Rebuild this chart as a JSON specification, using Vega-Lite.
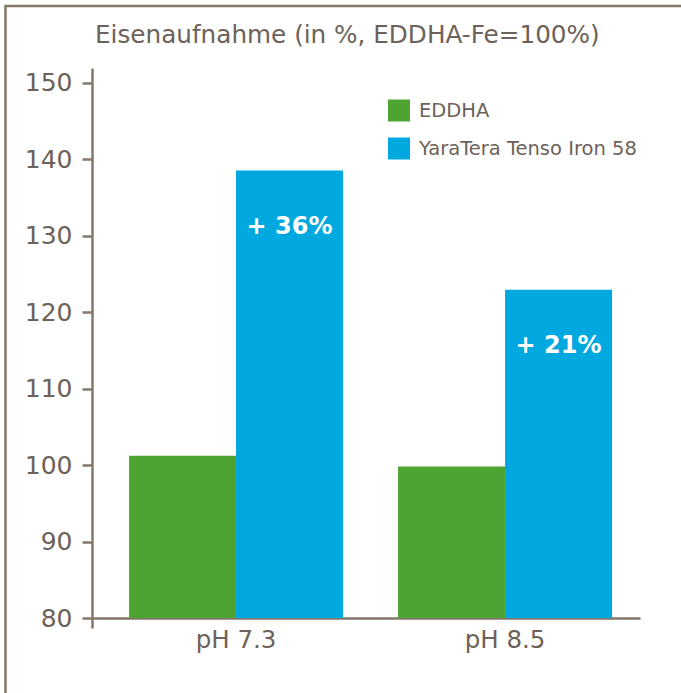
{
  "$schema": "https://vega.github.io/schema/vega-lite/v6.json",
  "width": 700,
  "height": 700,
  "autosize": {"type": "none"},
  "padding": {"left": 5.5, "top": 6, "right": 0, "bottom": 0},
  "background": "white",
  "view": {"stroke": "#85786a", "strokeWidth": 2.5},
  "title": {
    "text": "Eisenaufnahme (in %, EDDHA-Fe=100%)",
    "anchor": "start",
    "frame": "group",
    "orient": "top",
    "offset": 0,
    "dx": 89.5,
    "dy": 62,
    "baseline": "alphabetic",
    "font": "DejaVu Sans",
    "fontSize": 24.7,
    "fontWeight": "normal",
    "color": "#6d6259",
    "limit": 0
  },
  "data": {
    "values": [
      {"ph": "pH 7.3", "serie": "EDDHA", "wert": 101.2},
      {"ph": "pH 7.3", "serie": "YaraTera Tenso Iron 58", "wert": 138.5, "label": "+ 36%"},
      {"ph": "pH 8.5", "serie": "EDDHA", "wert": 99.8},
      {"ph": "pH 8.5", "serie": "YaraTera Tenso Iron 58", "wert": 122.9, "label": "+ 21%"}
    ]
  },
  "encoding": {
    "x": {
      "field": "ph",
      "type": "nominal",
      "scale": {"range": [86.5, 634.5], "paddingInner": 0.2045, "paddingOuter": 0.1208, "align": 0.57},
      "axis": {
        "orient": "bottom",
        "offset": -88,
        "domainColor": "#85786a",
        "domainWidth": 2.5,
        "ticks": false,
        "labelFont": "DejaVu Sans",
        "labelFontSize": 24.5,
        "labelColor": "#6d6259",
        "labelPadding": 10,
        "labelAngle": 0,
        "title": null
      }
    },
    "xOffset": {"field": "serie", "type": "nominal", "sort": ["EDDHA", "YaraTera Tenso Iron 58"]}
  },
  "layer": [
    {
      "mark": {"type": "bar"},
      "encoding": {
        "y": {
          "field": "wert",
          "type": "quantitative",
          "scale": {"domain": [78.7, 151.9], "range": [622, 62], "zero": false, "nice": false},
          "axis": {
            "orient": "left",
            "offset": -86.5,
            "values": [80, 90, 100, 110, 120, 130, 140, 150],
            "domainColor": "#85786a",
            "domainWidth": 2.5,
            "tickColor": "#85786a",
            "tickWidth": 2.5,
            "tickSize": 10,
            "labelFont": "DejaVu Sans",
            "labelFontSize": 25,
            "labelColor": "#6d6259",
            "labelPadding": 10,
            "grid": false,
            "title": null
          }
        },
        "y2": {"datum": 80},
        "color": {
          "field": "serie",
          "type": "nominal",
          "sort": ["EDDHA", "YaraTera Tenso Iron 58"],
          "scale": {"range": ["#4ea432", "#00a8e0"]},
          "legend": {
            "orient": "none",
            "legendX": 382.5,
            "legendY": 93.5,
            "title": null,
            "padding": 0,
            "symbolType": "square",
            "symbolSize": 484,
            "symbolStrokeWidth": 0,
            "symbolOpacity": 1,
            "labelFont": "DejaVu Sans",
            "labelFontSize": 19.5,
            "labelColor": "#6d6259",
            "labelOffset": 9,
            "labelLimit": 0,
            "rowPadding": 16
          }
        }
      }
    },
    {
      "transform": [{"filter": "datum.label"}],
      "mark": {"type": "text", "color": "white", "font": "DejaVu Sans", "fontWeight": "bold", "fontSize": 24, "baseline": "middle", "dy": 56},
      "encoding": {
        "y": {"field": "wert", "type": "quantitative"},
        "text": {"field": "label"}
      }
    }
  ]
}
